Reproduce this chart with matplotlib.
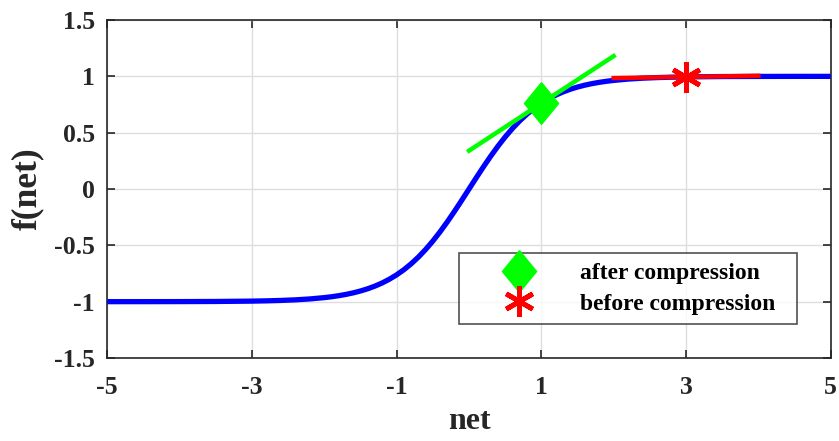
import matplotlib
matplotlib.use("Agg")
import matplotlib.pyplot as plt

net = [-5.0, -4.5, -4.0, -3.5, -3.0, -2.8, -2.6, -2.4, -2.2, -2.0,
       -1.9, -1.8, -1.7, -1.6, -1.5, -1.4, -1.3, -1.2, -1.1, -1.0,
       -0.9, -0.8, -0.7, -0.6, -0.5, -0.4, -0.3, -0.2, -0.1, 0.0,
       0.1, 0.2, 0.3, 0.4, 0.5, 0.6, 0.7, 0.8, 0.9, 1.0,
       1.1, 1.2, 1.3, 1.4, 1.5, 1.6, 1.7, 1.8, 1.9, 2.0,
       2.2, 2.4, 2.6, 2.8, 3.0, 3.5, 4.0, 4.5, 5.0]
f_net = [-0.9999, -0.9998, -0.9993, -0.9982, -0.9951, -0.9926, -0.9890, -0.9837, -0.9757, -0.9640,
         -0.9562, -0.9468, -0.9354, -0.9217, -0.9051, -0.8854, -0.8617, -0.8337, -0.8005, -0.7616,
         -0.7163, -0.6640, -0.6044, -0.5370, -0.4621, -0.3799, -0.2913, -0.1974, -0.0997, 0.0,
         0.0997, 0.1974, 0.2913, 0.3799, 0.4621, 0.5370, 0.6044, 0.6640, 0.7163, 0.7616,
         0.8005, 0.8337, 0.8617, 0.8854, 0.9051, 0.9217, 0.9354, 0.9468, 0.9562, 0.9640,
         0.9757, 0.9837, 0.9890, 0.9926, 0.9951, 0.9982, 0.9993, 0.9998, 0.9999]

tangent_after_x = [0.0, 2.0]
tangent_after_y = [0.34, 1.18]
tangent_before_x = [2.0, 4.0]
tangent_before_y = [0.985, 1.005]

after_point = (1.0, 0.7616)
before_point = (3.0, 0.9951)

xticks = [-5, -3, -1, 1, 3, 5]
xtick_labels = ["-5", "-3", "-1", "1", "3", "5"]
yticks = [-1.5, -1, -0.5, 0, 0.5, 1, 1.5]
ytick_labels = ["-1.5", "-1", "-0.5", "0", "0.5", "1", "1.5"]

plt.rcParams['font.family'] = ['Liberation Serif', 'DejaVu Serif']
plt.rcParams['font.weight'] = 'bold'

fig = plt.figure(figsize=(8.39, 4.41), dpi=100)
ax = fig.add_axes([0.1279, 0.1882, 0.8622, 0.7664])

diamond = [(0, 1), (0.82, 0), (0, -1), (-0.82, 0), (0, 1)]

ax.plot(net, f_net, color='#0000ff', lw=3.8, zorder=3, solid_capstyle='butt')
ax.plot(tangent_after_x, tangent_after_y, color='#00ff00', lw=3.2, zorder=4)
ax.plot(tangent_before_x, tangent_before_y, color='#ff0000', lw=3.2, zorder=4)
ax.plot([after_point[0]], [after_point[1]], linestyle='none', marker=diamond, markersize=30,
        color='#00ff00', label='after compression', zorder=5)
ax.plot([before_point[0]], [before_point[1]], linestyle='none', marker=(6, 2, 0), markersize=22,
        markeredgewidth=3.5, color='#ff0000', label='before compression', zorder=5)

ax.set_xlim(-5, 5)
ax.set_ylim(-1.5, 1.5)
ax.set_xticks(xticks)
ax.set_xticklabels(xtick_labels)
ax.set_yticks(yticks)
ax.set_yticklabels(ytick_labels)
ax.tick_params(direction='in', top=True, right=True, length=6, width=1.2,
               labelsize=18.5, colors='#262626')
ax.tick_params(axis='x', pad=13)
ax.tick_params(axis='y', pad=9)
for lab in ax.get_xticklabels() + ax.get_yticklabels():
    lab.set_fontweight('bold')
ax.grid(True, color='#dedede', lw=1.0)
ax.set_axisbelow(True)
for s in ax.spines.values():
    s.set_color('#262626')
    s.set_linewidth(1.2)

ax.set_xlabel('net', fontsize=23, fontweight='bold', color='#262626', labelpad=6)
ax.set_ylabel('f(net)', fontsize=25.5, fontweight='bold', color='#262626', labelpad=7)

leg = ax.legend(loc='lower left', bbox_to_anchor=(0.486, 0.1006, 0.467, 0.211), mode='expand',
                fontsize=17, frameon=True, fancybox=False, edgecolor='#262626',
                handlelength=4.3, handletextpad=0.45, borderpad=0.4, labelspacing=0.38,
                borderaxespad=0, markerscale=1.0)
leg.get_frame().set_linewidth(1.2)
for t in leg.get_texts():
    t.set_fontweight('bold')

fig.savefig('out.png', dpi=100)
